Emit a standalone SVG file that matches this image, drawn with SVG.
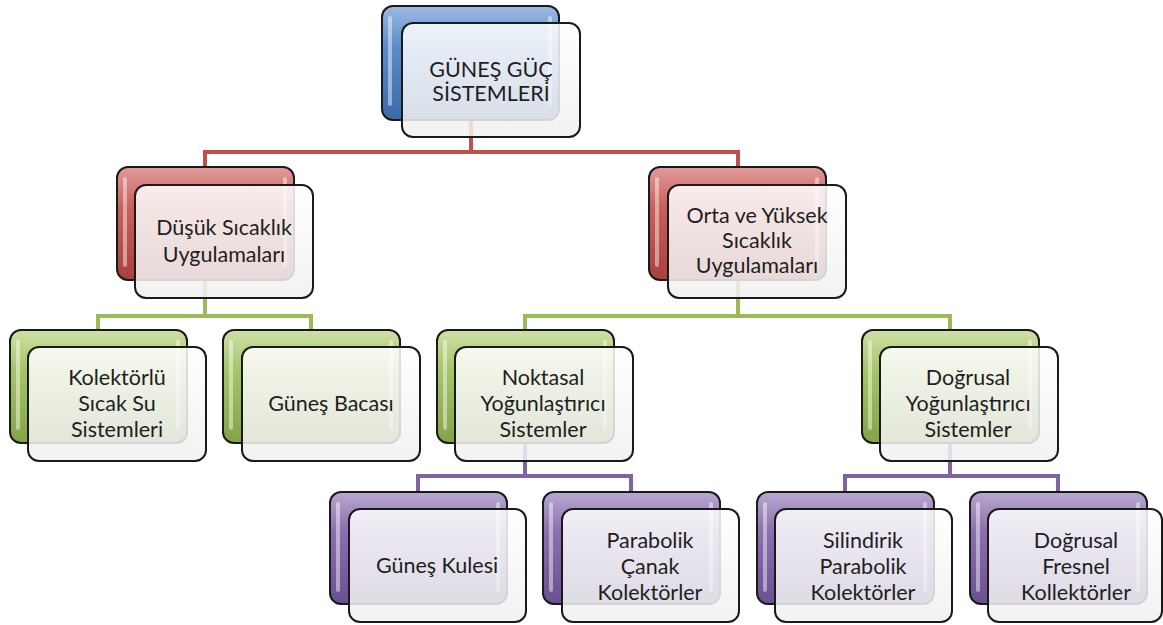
<svg xmlns="http://www.w3.org/2000/svg" width="1163" height="625" viewBox="0 0 1163 625">
<style>
.back{stroke:#1a1a1a;stroke-width:2}
.front{fill:url(#frontG);fill-opacity:0.86;stroke:#1a1a1a;stroke-width:2}
.hl{fill:#ffffff;fill-opacity:0.45}
.conn{fill:none;stroke-width:4;stroke-linejoin:miter}
.red{stroke:#c0504d}
.green{stroke:#9bbb59}
.purple{stroke:#8064a2}
text{font-family:Lato,"Open Sans","Liberation Sans",sans-serif;font-size:21.5px;fill:#1e1e1e;text-anchor:middle}
</style>
<defs>
<linearGradient id="frontG" x1="0" y1="0" x2="0" y2="1">
<stop offset="0" stop-color="#ffffff"/>
<stop offset="1" stop-color="#f0f0f0"/>
</linearGradient>
<linearGradient id="blueG" x1="0" y1="0" x2="0" y2="1">
<stop offset="0" stop-color="#9dbbe2"/>
<stop offset="0.35" stop-color="#5b8ccb"/>
<stop offset="1" stop-color="#3a6aa8"/>
</linearGradient>
<linearGradient id="redG" x1="0" y1="0" x2="0" y2="1">
<stop offset="0" stop-color="#e19c9a"/>
<stop offset="0.35" stop-color="#c9605d"/>
<stop offset="1" stop-color="#a8403d"/>
</linearGradient>
<linearGradient id="greenG" x1="0" y1="0" x2="0" y2="1">
<stop offset="0" stop-color="#cfe1a6"/>
<stop offset="0.35" stop-color="#a6c46a"/>
<stop offset="1" stop-color="#84a247"/>
</linearGradient>
<linearGradient id="purpleG" x1="0" y1="0" x2="0" y2="1">
<stop offset="0" stop-color="#b9a8d0"/>
<stop offset="0.35" stop-color="#8a70ad"/>
<stop offset="1" stop-color="#6a5090"/>
</linearGradient>
</defs>

<g id="connectors">
<path class="conn red" d="M471 120 V152 M205 167 V152 H738 V167"/>
<path class="conn green" d="M205 280 V316 M98 330 V316 H311 V330"/>
<path class="conn green" d="M738 280 V316 M525 330 V316 H950 V330"/>
<path class="conn purple" d="M525 443 V476 M418 492 V476 H631 V492"/>
<path class="conn purple" d="M950 443 V476 M845 492 V476 H1058 V492"/>
</g>

<g id="n-root">
<rect class="back" x="382" y="6" width="177" height="114" rx="11" fill="url(#blueG)"/>
<rect class="hl" x="388" y="16" width="4" height="90" rx="2"/>
<rect class="hl" x="548" y="16" width="4" height="90" rx="2"/>
<rect class="front" x="402" y="23" width="178" height="114" rx="11"/>
<text x="491" y="77">GÜNEŞ GÜÇ</text>
<text x="491" y="101">SİSTEMLERİ</text>
</g>

<g id="n-dusuk">
<rect class="back" x="117" y="167" width="177" height="113" rx="11" fill="url(#redG)"/>
<rect class="hl" x="123" y="177" width="4" height="90" rx="2"/>
<rect class="hl" x="283" y="177" width="4" height="90" rx="2"/>
<rect class="front" x="135" y="185" width="178" height="113" rx="11"/>
<text x="224" y="235">Düşük Sıcaklık</text>
<text x="224" y="262">Uygulamaları</text>
</g>

<g id="n-orta">
<rect class="back" x="649" y="167" width="177" height="113" rx="11" fill="url(#redG)"/>
<rect class="hl" x="655" y="177" width="4" height="90" rx="2"/>
<rect class="hl" x="815" y="177" width="4" height="90" rx="2"/>
<rect class="front" x="668" y="185" width="178" height="113" rx="11"/>
<text x="757" y="223">Orta ve Yüksek</text>
<text x="757" y="248">Sıcaklık</text>
<text x="757" y="273">Uygulamaları</text>
</g>

<g id="n-kolektorlu">
<rect class="back" x="10" y="330" width="177" height="113" rx="11" fill="url(#greenG)"/>
<rect class="hl" x="16" y="340" width="4" height="90" rx="2"/>
<rect class="hl" x="176" y="340" width="4" height="90" rx="2"/>
<rect class="front" x="28" y="347" width="178" height="114" rx="11"/>
<text x="117" y="385">Kolektörlü</text>
<text x="117" y="411">Sıcak Su</text>
<text x="117" y="437">Sistemleri</text>
</g>

<g id="n-baca">
<rect class="back" x="223" y="330" width="177" height="113" rx="11" fill="url(#greenG)"/>
<rect class="hl" x="229" y="340" width="4" height="90" rx="2"/>
<rect class="hl" x="389" y="340" width="4" height="90" rx="2"/>
<rect class="front" x="242" y="347" width="178" height="114" rx="11"/>
<text x="331" y="411">Güneş Bacası</text>
</g>

<g id="n-noktasal">
<rect class="back" x="437" y="330" width="177" height="113" rx="11" fill="url(#greenG)"/>
<rect class="hl" x="443" y="340" width="4" height="90" rx="2"/>
<rect class="hl" x="603" y="340" width="4" height="90" rx="2"/>
<rect class="front" x="455" y="347" width="178" height="114" rx="11"/>
<text x="543" y="385">Noktasal</text>
<text x="543" y="411">Yoğunlaştırıcı</text>
<text x="543" y="437">Sistemler</text>
</g>

<g id="n-dogrusal">
<rect class="back" x="862" y="330" width="177" height="113" rx="11" fill="url(#greenG)"/>
<rect class="hl" x="868" y="340" width="4" height="90" rx="2"/>
<rect class="hl" x="1028" y="340" width="4" height="90" rx="2"/>
<rect class="front" x="880" y="347" width="178" height="114" rx="11"/>
<text x="968" y="385">Doğrusal</text>
<text x="968" y="411">Yoğunlaştırıcı</text>
<text x="968" y="437">Sistemler</text>
</g>

<g id="n-kule">
<rect class="back" x="330" y="492" width="177" height="112" rx="11" fill="url(#purpleG)"/>
<rect class="hl" x="336" y="502" width="4" height="90" rx="2"/>
<rect class="hl" x="496" y="502" width="4" height="90" rx="2"/>
<rect class="front" x="349" y="509" width="177" height="113" rx="11"/>
<text x="437" y="573">Güneş Kulesi</text>
</g>

<g id="n-canak">
<rect class="back" x="543" y="492" width="177" height="112" rx="11" fill="url(#purpleG)"/>
<rect class="hl" x="549" y="502" width="4" height="90" rx="2"/>
<rect class="hl" x="709" y="502" width="4" height="90" rx="2"/>
<rect class="front" x="562" y="509" width="177" height="113" rx="11"/>
<text x="650" y="548">Parabolik</text>
<text x="650" y="574">Çanak</text>
<text x="650" y="600">Kolektörler</text>
</g>

<g id="n-silindirik">
<rect class="back" x="757" y="492" width="177" height="112" rx="11" fill="url(#purpleG)"/>
<rect class="hl" x="763" y="502" width="4" height="90" rx="2"/>
<rect class="hl" x="923" y="502" width="4" height="90" rx="2"/>
<rect class="front" x="775" y="509" width="177" height="113" rx="11"/>
<text x="863" y="548">Silindirik</text>
<text x="863" y="574">Parabolik</text>
<text x="863" y="600">Kolektörler</text>
</g>

<g id="n-fresnel">
<rect class="back" x="970" y="492" width="177" height="112" rx="11" fill="url(#purpleG)"/>
<rect class="hl" x="976" y="502" width="4" height="90" rx="2"/>
<rect class="hl" x="1136" y="502" width="4" height="90" rx="2"/>
<rect class="front" x="988" y="509" width="174" height="113" rx="11"/>
<text x="1076" y="548">Doğrusal</text>
<text x="1076" y="574">Fresnel</text>
<text x="1076" y="600">Kollektörler</text>
</g>
</svg>
